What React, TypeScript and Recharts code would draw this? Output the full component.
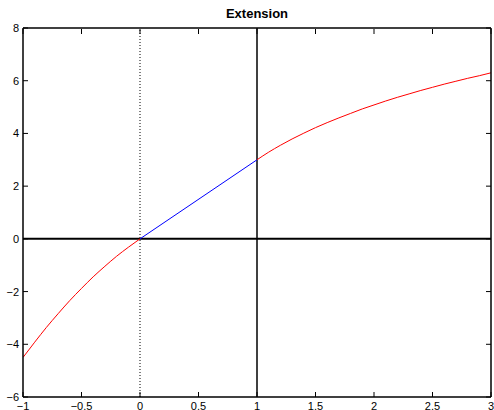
import React from "react";
import { LineChart, Line, XAxis, YAxis, ReferenceLine } from "recharts";

// x positions (read at 0.1 steps) and the y values
const leftX = [-1, -0.9, -0.8, -0.7, -0.6, -0.5, -0.4, -0.3, -0.2, -0.1, 0];
const leftY = [-4.5, -3.92, -3.36, -2.84, -2.34, -1.88, -1.44, -1.04, -0.66, -0.32, 0];

const midX = [0, 1];
const midY = [0, 3];

const rightX = [1, 1.1, 1.2, 1.3, 1.4, 1.5, 1.6, 1.7, 1.8, 1.9, 2, 2.1, 2.2, 2.3, 2.4, 2.5, 2.6, 2.7, 2.8, 2.9, 3];
const rightY = [3, 3.29, 3.55, 3.79, 4.01, 4.22, 4.41, 4.59, 4.76, 4.93, 5.08, 5.23, 5.37, 5.5, 5.63, 5.75, 5.87, 5.98, 6.09, 6.19, 6.3];

const xTicks = [-1, -0.5, 0, 0.5, 1, 1.5, 2, 2.5, 3];
const yTicks = [-6, -4, -2, 0, 2, 4, 6, 8];

const title = "Extension";

const toRows = (xs: number[], ys: number[]) => xs.map((x, i) => ({ x, y: ys[i] }));

const fmt = (v: number) => (v < 0 ? "\u2212" + Math.abs(v) : String(v));

const FONT = "'Liberation Sans', Arial, Helvetica, sans-serif";
const TICK_LEN = 5;

const BottomTick = (props: any) => {
  const { x, y, payload } = props;
  return (
    <g>
      <line x1={x} x2={x} y1={y} y2={y - TICK_LEN} stroke="#000" strokeWidth={1} />
      <text x={x} y={y + 5} dy="0.71em" textAnchor="middle" fontSize={11} fontFamily={FONT} fill="#000">
        {fmt(payload.value)}
      </text>
    </g>
  );
};

// top axis is 1px tall, so y arrives one pixel above the plot edge
const TopTick = (props: any) => {
  const { x, y } = props;
  return <line x1={x} x2={x} y1={y + 1} y2={y + 1 + TICK_LEN} stroke="#000" strokeWidth={1} />;
};

const LeftTick = (props: any) => {
  const { x, y, payload } = props;
  return (
    <g>
      <line x1={x} x2={x + TICK_LEN} y1={y} y2={y} stroke="#000" strokeWidth={1} />
      <text x={x - 4} y={y} dy="0.36em" textAnchor="end" fontSize={11} fontFamily={FONT} fill="#000">
        {fmt(payload.value)}
      </text>
    </g>
  );
};

// right axis is 1px wide, x arrives at the plot edge
const RightTick = (props: any) => {
  const { x, y } = props;
  return <line x1={x} x2={x - TICK_LEN} y1={y} y2={y} stroke="#000" strokeWidth={1} />;
};

export default function App() {
  const axisLine = { stroke: "#000", strokeWidth: 1.5 };
  return (
    <div style={{ position: "absolute", left: 0, top: 0, width: 494, height: 410, background: "#fff", overflow: "hidden" }}>
      <div
        style={{
          position: "absolute",
          top: 7,
          left: 0,
          width: 514,
          textAlign: "center",
          fontFamily: FONT,
          fontWeight: 700,
          fontSize: 13,
          lineHeight: "13px",
          color: "#000",
        }}
      >
        {title}
      </div>
      <LineChart width={494} height={410} margin={{ top: 27, right: 2, bottom: 0, left: 0 }}>
        <XAxis
          type="number"
          dataKey="x"
          domain={[-1, 3]}
          ticks={xTicks}
          interval={0}
          height={13}
          tickSize={0}
          tickMargin={0}
          tickLine={false}
          axisLine={axisLine}
          tick={<BottomTick />}
          allowDataOverflow
        />
        <XAxis
          xAxisId="top"
          orientation="top"
          type="number"
          dataKey="x"
          domain={[-1, 3]}
          ticks={xTicks}
          interval={0}
          height={1}
          tickSize={0}
          tickMargin={0}
          tickLine={false}
          axisLine={axisLine}
          tick={<TopTick />}
          allowDataOverflow
        />
        <YAxis
          type="number"
          dataKey="y"
          domain={[-6, 8]}
          ticks={yTicks}
          interval={0}
          width={23}
          tickSize={0}
          tickMargin={0}
          tickLine={false}
          axisLine={axisLine}
          tick={<LeftTick />}
          allowDataOverflow
        />
        <YAxis
          yAxisId="right"
          orientation="right"
          type="number"
          dataKey="y"
          domain={[-6, 8]}
          ticks={yTicks}
          interval={0}
          width={1}
          tickSize={0}
          tickMargin={0}
          tickLine={false}
          axisLine={axisLine}
          tick={<RightTick />}
          allowDataOverflow
        />
        <ReferenceLine x={0} stroke="#000" strokeWidth={1} strokeDasharray="1 2" />
        <ReferenceLine x={1} stroke="#000" strokeWidth={1.5} />
        <ReferenceLine y={0} stroke="#000" strokeWidth={2} />
        <Line
          data={toRows(leftX, leftY)}
          dataKey="y"
          type="monotone"
          stroke="#ff0000"
          strokeWidth={1}
          dot={false}
          activeDot={false}
          isAnimationActive={false}
        />
        <Line
          data={toRows(midX, midY)}
          dataKey="y"
          type="linear"
          stroke="#0000ff"
          strokeWidth={1}
          dot={false}
          activeDot={false}
          isAnimationActive={false}
        />
        <Line
          data={toRows(rightX, rightY)}
          dataKey="y"
          type="monotone"
          stroke="#ff0000"
          strokeWidth={1}
          dot={false}
          activeDot={false}
          isAnimationActive={false}
        />
      </LineChart>
    </div>
  );
}
